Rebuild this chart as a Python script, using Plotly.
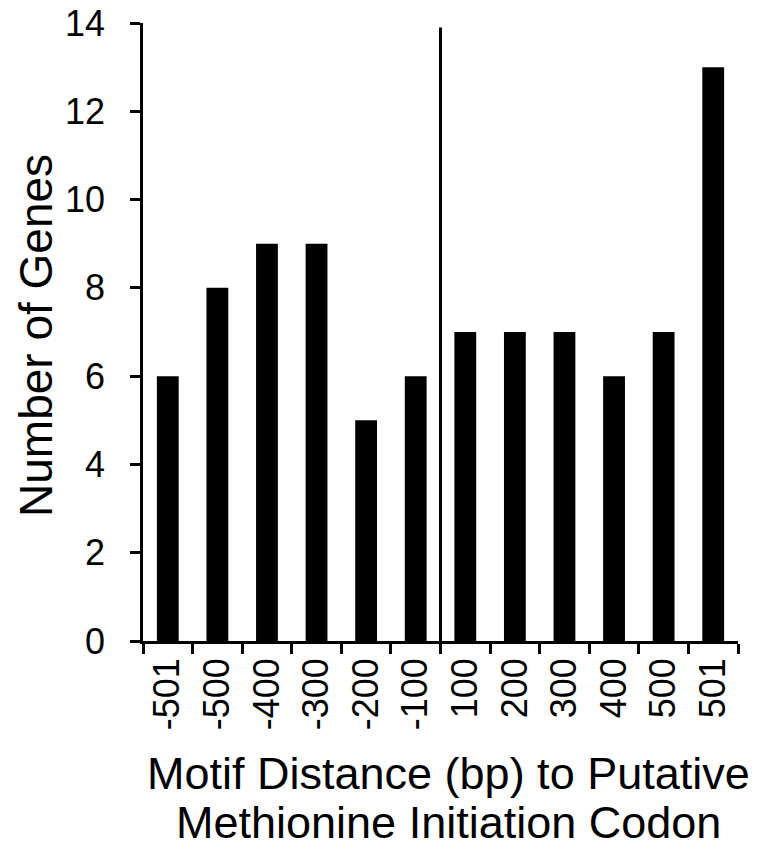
import plotly.graph_objects as go

categories = ["-501", "-500", "-400", "-300", "-200", "-100",
              "100", "200", "300", "400", "500", "501"]
gene_counts = [6, 8, 9, 9, 5, 6, 7, 7, 7, 6, 7, 13]
y_ticks = [0, 2, 4, 6, 8, 10, 12, 14]
divider_after = "-100"
divider_top = 13.9
x_title_lines = ["Motif Distance (bp) to Putative", "Methionine Initiation Codon"]
y_title = "Number of Genes"

font = "Liberation Sans, Arial, sans-serif"

fig = go.Figure()
fig.add_trace(
    go.Bar(
        x=categories,
        y=gene_counts,
        marker=dict(color="black", line=dict(width=0)),
        width=0.44,
    )
)

# start-codon divider between upstream and downstream bins
div_x = categories.index(divider_after) + 0.5
fig.add_shape(type="line", xref="x", yref="y", x0=div_x, x1=div_x, y0=0, y1=divider_top,
              line=dict(color="black", width=3))

# titles as annotations so the two lines sit tighter than plotly's 1.3em spacing
fig.add_annotation(text=x_title_lines[0], xref="paper", yref="paper", x=0.513, y=-0.214,
                   xanchor="center", yanchor="middle", showarrow=False, font=dict(size=45))
fig.add_annotation(text=x_title_lines[1], xref="paper", yref="paper", x=0.513, y=-0.293,
                   xanchor="center", yanchor="middle", showarrow=False, font=dict(size=45))
fig.add_annotation(text=y_title, xref="paper", yref="paper", x=-0.18, y=0.495,
                   xanchor="center", yanchor="middle", textangle=-90, showarrow=False,
                   font=dict(size=46))

fig.update_layout(
    width=766,
    height=858,
    plot_bgcolor="white",
    paper_bgcolor="white",
    showlegend=False,
    margin=dict(l=135, r=36, t=15, b=225),
    font=dict(family=font, color="black"),
)
fig.update_xaxes(
    range=[-0.5, len(categories) - 0.5],
    showline=True, linecolor="black", linewidth=2.5,
    ticks="outside", tickson="boundaries", ticklen=10, tickwidth=2.5, tickcolor="black",
    tickangle=-90, tickfont=dict(size=36),
    showgrid=False, automargin=False,
)
fig.update_yaxes(
    range=[0, 14], tickvals=y_ticks,
    showline=True, linecolor="black", linewidth=2.5,
    ticks="outside", ticklen=10, tickwidth=2.5, tickcolor="black",
    tickfont=dict(size=36), ticklabelstandoff=18, ticklabeloverflow="allow",
    showgrid=False, zeroline=False, automargin=False,
)

fig.write_html("out.html")
